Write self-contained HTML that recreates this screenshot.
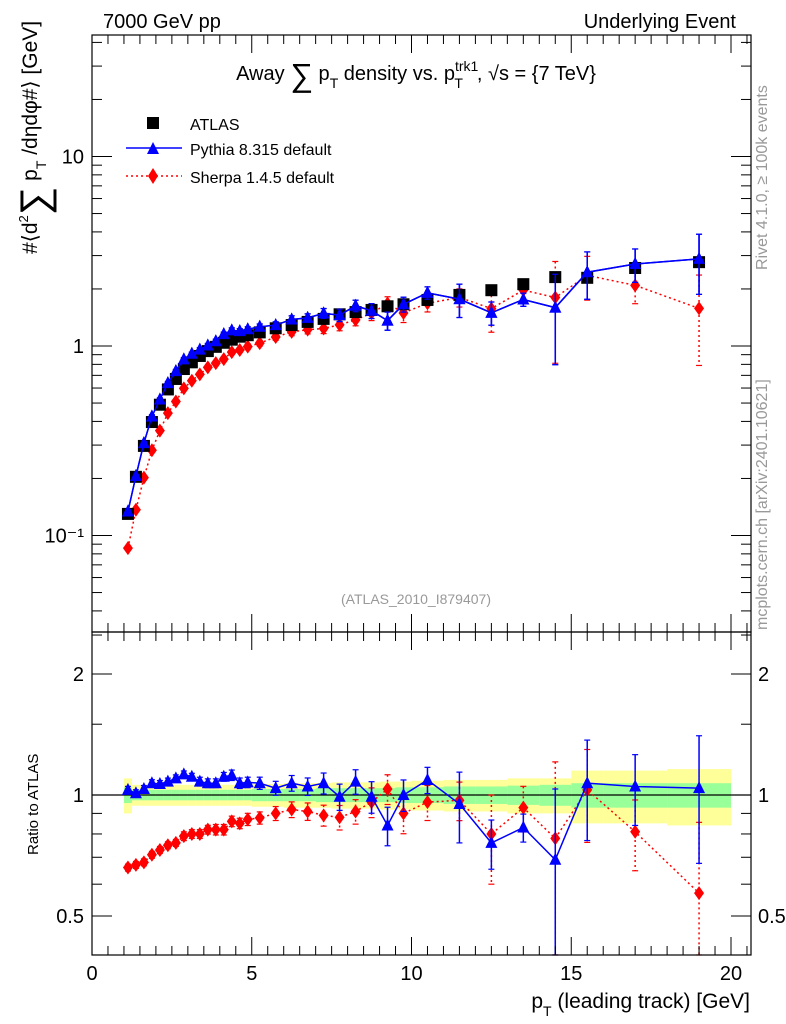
<!DOCTYPE html>
<html><head><meta charset="utf-8"><style>
body{margin:0;background:#fff}
svg{display:block;font-family:"Liberation Sans","DejaVu Sans",sans-serif}
</style></head><body>
<svg id="chart" width="786" height="1024" viewBox="0 0 786 1024" xmlns="http://www.w3.org/2000/svg">
<rect x="0" y="0" width="786" height="1024" fill="#fff"/>
<g id="bands"></g>
<g id="marks"></g>
<rect x="92" y="35" width="659" height="597" fill="none" stroke="#000" stroke-width="1.2"/>
<rect x="92" y="632" width="659" height="323" fill="none" stroke="#000" stroke-width="1.2"/>
<g id="axes"></g>
<text x="103" y="28" font-size="20">7000 GeV pp</text>
<text x="736" y="28" font-size="20" text-anchor="end">Underlying Event</text>
<text x="416" y="80" font-size="20" text-anchor="middle">Away <tspan font-size="32" dy="6">∑</tspan><tspan dy="-6"> p</tspan><tspan font-size="14" dy="8">T</tspan><tspan dy="-8"> density vs. p</tspan><tspan font-size="14" dy="-9">trk1</tspan><tspan font-size="14" dx="-24" dy="17">T</tspan><tspan dx="14" dy="-8">, √s = {7 TeV}</tspan></text>
<text x="416" y="604" font-size="14" fill="#999" text-anchor="middle">(ATLAS_2010_I879407)</text>
<text transform="translate(37,254) rotate(-90)" font-size="21">#⟨d<tspan font-size="13" dy="-9">2</tspan><tspan font-size="40" dy="20">∑</tspan><tspan dy="-11"> p</tspan><tspan font-size="14" dy="9">T</tspan><tspan dy="-9"> /dηdφ#⟩ [GeV]</tspan></text>
<text transform="translate(38,855) rotate(-90)" font-size="15">Ratio to ATLAS</text>
<text x="750" y="1008" font-size="21" text-anchor="end">p<tspan font-size="14" dy="8">T</tspan><tspan dy="-8"> (leading track) [GeV]</tspan></text>
<text transform="translate(767,270) rotate(-90)" font-size="16" fill="#999">Rivet 4.1.0, ≥ 100k events</text>
<text transform="translate(767,630) rotate(-90)" font-size="16" fill="#999">mcplots.cern.ch [arXiv:2401.10621]</text>
<g>
<rect x="147" y="117" width="12" height="12" fill="#000"/>
<text x="190" y="130" font-size="16">ATLAS</text>
<line x1="126" y1="148" x2="182" y2="148" stroke="#00f" stroke-width="1.5"/>
<polygon points="147,154 159,154 153,142" fill="#00f"/>
<text x="190" y="155" font-size="16">Pythia 8.315 default</text>
<line x1="126" y1="176" x2="182" y2="176" stroke="#f00" stroke-width="1.5" stroke-dasharray="2,3"/>
<polygon points="153,168 158,176 153,184 148,176" fill="#f00"/>
<text x="190" y="183" font-size="16">Sherpa 1.4.5 default</text>
</g>
</svg>
<script>
const xCenters=[1.125,1.375,1.625,1.875,2.125,2.375,2.625,2.875,3.125,3.375,3.625,3.875,4.125,4.375,4.625,4.875,5.25,5.75,6.25,6.75,7.25,7.75,8.25,8.75,9.25,9.75,10.5,11.5,12.5,13.5,14.5,15.5,17,19];
const binLo=[1,1.25,1.5,1.75,2,2.25,2.5,2.75,3,3.25,3.5,3.75,4,4.25,4.5,4.75,5,5.5,6,6.5,7,7.5,8,8.5,9,9.5,10,11,12,13,14,15,16,18];
const binHi=[1.25,1.5,1.75,2,2.25,2.5,2.75,3,3.25,3.5,3.75,4,4.25,4.5,4.75,5,5.5,6,6.5,7,7.5,8,8.5,9,9.5,10,11,12,13,14,15,16,18,20];
const atlasVals=[0.13,0.204,0.297,0.397,0.49,0.59,0.67,0.756,0.82,0.886,0.94,0.99,1.04,1.08,1.12,1.14,1.18,1.24,1.29,1.34,1.39,1.47,1.51,1.55,1.62,1.66,1.75,1.86,1.97,2.12,2.31,2.29,2.58,2.77];
const atlasStat=[0.045,0.03,0.03,0.03,0.03,0.03,0.03,0.03,0.03,0.03,0.03,0.03,0.03,0.03,0.03,0.03,0.035,0.035,0.035,0.035,0.04,0.04,0.04,0.04,0.04,0.045,0.045,0.05,0.05,0.055,0.06,0.07,0.07,0.07];
const atlasTot=[0.1,0.06,0.06,0.06,0.06,0.06,0.06,0.06,0.06,0.06,0.06,0.06,0.06,0.06,0.06,0.06,0.065,0.065,0.07,0.07,0.07,0.075,0.075,0.075,0.08,0.08,0.085,0.09,0.09,0.1,0.1,0.15,0.15,0.16];
const pythiaRatio=[1.03,1.01,1.035,1.07,1.065,1.08,1.10,1.125,1.11,1.08,1.07,1.07,1.11,1.12,1.07,1.075,1.07,1.04,1.07,1.05,1.07,0.99,1.08,0.99,0.84,1.0,1.09,0.95,0.76,0.83,0.69,1.07,1.05,1.04];
const pythiaErr=[0.02,0.02,0.02,0.02,0.02,0.02,0.02,0.02,0.02,0.025,0.025,0.025,0.025,0.03,0.03,0.03,0.035,0.04,0.045,0.05,0.06,0.075,0.07,0.09,0.11,0.09,0.075,0.2,0.14,0.08,0.5,0.28,0.2,0.35];
const sherpaRatio=[0.66,0.67,0.68,0.71,0.73,0.75,0.76,0.79,0.80,0.80,0.82,0.82,0.82,0.86,0.85,0.87,0.877,0.90,0.92,0.91,0.89,0.88,0.91,0.96,1.035,0.90,0.96,0.97,0.80,0.93,0.78,1.03,0.81,0.57];
const sherpaErr=[0.02,0.02,0.02,0.02,0.02,0.02,0.02,0.025,0.025,0.025,0.025,0.03,0.03,0.03,0.03,0.035,0.035,0.04,0.045,0.05,0.06,0.07,0.07,0.085,0.085,0.11,0.1,0.11,0.25,0.13,0.55,0.26,0.2,0.5];
const xTicks=[0,5,10,15,20];
const mainTickVals=[0.1,1,10];
const mainTickLabels=["10⁻¹","1","10"];
const ratioTickVals=[0.5,1,2];
const ratioTickLabels=["0.5","1","2"];

const NS="http://www.w3.org/2000/svg";
const X=v=>92+v*31.95;
const Ym=v=>346-189.5*Math.log10(v);
const Yr=r=>795-402*Math.log10(r);
const RMIN=0.4,RMAX=2.53,MMIN=0.031,MMAX=44;
const clampR=r=>Math.max(RMIN,Math.min(RMAX,r));
const clampM=v=>Math.max(MMIN,Math.min(MMAX,v));
function mk(tag,attrs,parent){const e=document.createElementNS(NS,tag);for(const k in attrs)e.setAttribute(k,attrs[k]);parent.appendChild(e);return e;}
const bands=document.getElementById('bands');
const marks=document.getElementById('marks');
const axes=document.getElementById('axes');

for(let i=0;i<xCenters.length;i++){
  const y1=mk('rect',{x:X(binLo[i]),width:X(binHi[i])-X(binLo[i]),y:Yr(1+atlasTot[i]),height:Yr(1-atlasTot[i])-Yr(1+atlasTot[i]),fill:'#ffff99'},bands);
  
  
  const g1=mk('rect',{x:X(binLo[i]),width:X(binHi[i])-X(binLo[i]),y:Yr(1+atlasStat[i]),height:Yr(1-atlasStat[i])-Yr(1+atlasStat[i]),fill:'#99ff99'},bands);
  
  
}
const one=mk('line',{x1:92,x2:751,y1:Yr(1),y2:Yr(1),stroke:'#000','stroke-width':1.2},bands);



function series(vals,errs,color,dash,shape,name,yf,clamp){
  const g=mk('g',{},marks);
  
  
  const pts=xCenters.map((x,i)=>X(x)+','+yf(vals[i]));
  const pl=mk('polyline',{points:pts.join(' '),fill:'none',stroke:color,'stroke-width':1.5},g);
  if(dash)pl.setAttribute('stroke-dasharray',dash);
  for(let i=0;i<xCenters.length;i++){
    const cx=X(xCenters[i]),cy=yf(vals[i]);
    if(errs){
      const hi=yf(clamp(vals[i]*(1+errs[i]))),lo=yf(clamp(vals[i]*(1-errs[i])));
      const l=mk('line',{x1:cx,x2:cx,y1:hi,y2:lo,stroke:color,'stroke-width':1.5},g);
      if(dash)l.setAttribute('stroke-dasharray',dash);
      
      
      mk('line',{x1:cx-3,x2:cx+3,y1:hi,y2:hi,stroke:color,'stroke-width':1.2},g);
      mk('line',{x1:cx-3,x2:cx+3,y1:lo,y2:lo,stroke:color,'stroke-width':1.2},g);
    }
    let m;
    if(shape==='sq')m=mk('rect',{x:cx-6,y:cy-6,width:12,height:12,fill:color},g);
    else if(shape==='tri')m=mk('polygon',{points:`${cx-6},${cy+5} ${cx+6},${cy+5} ${cx},${cy-7}`,fill:color},g);
    else m=mk('polygon',{points:`${cx},${cy-7} ${cx+5},${cy} ${cx},${cy+7} ${cx-5},${cy}`,fill:color},g);
    
    
  }
}
const pythiaVals=pythiaRatio.map((r,i)=>r*atlasVals[i]);
const sherpaVals=sherpaRatio.map((r,i)=>r*atlasVals[i]);
series(sherpaVals,sherpaErr,'#f00','2,3','dia','sherpa-main',Ym,clampM);
series(pythiaVals,pythiaErr,'#00f',null,'tri','pythia-main',Ym,clampM);
(function(){const g=mk('g',{},marks);


for(let i=0;i<xCenters.length;i++){const r=mk('rect',{x:X(xCenters[i])-6,y:Ym(atlasVals[i])-6,width:12,height:12,fill:'#000'},g);

}})();
series(pythiaVals,pythiaErr,'#00f',null,'tri','pythia-main-top',Ym,clampM);
series(sherpaRatio,sherpaErr,'#f00','2,3','dia','sherpa-ratio',Yr,clampR);
series(pythiaRatio,pythiaErr,'#00f',null,'tri','pythia-ratio',Yr,clampR);

function tick(x1,y1,x2,y2){mk('line',{x1,y1,x2,y2,stroke:'#000','stroke-width':1},axes);}
for(let v=0;v<=20.5;v+=0.5){
  const x=X(v);const major=Math.abs(v%5)<1e-6;const len=major?18:9;
  tick(x,632,x,632-len);tick(x,35,x,35+len);tick(x,955,x,955-len);tick(x,632,x,632+len);
}
xTicks.forEach(v=>{const t=mk('text',{x:X(v),y:980,'font-size':20,'text-anchor':'middle'},axes);t.textContent=v;

});
for(let d=-2;d<=1;d++){for(let k=1;k<=9;k++){const v=k*Math.pow(10,d);if(v<MMIN||v>MMAX)continue;const y=Ym(v);const len=k===1?20:10;
tick(92,y,92+len,y);tick(751,y,751-len,y);}}
mainTickVals.forEach((v,i)=>{const t=mk('text',{x:84,y:Ym(v)+7,'font-size':20,'text-anchor':'end'},axes);t.textContent=mainTickLabels[i];

});
[0.4,0.5,0.6,0.7,0.8,0.9,1,1.5,2,2.5].forEach(v=>{const y=Yr(v);const major=(v===0.5||v===1||v===2);const len=major?20:10;
tick(92,y,92+len,y);tick(751,y,751-len,y);});
ratioTickVals.forEach((v,i)=>{const t=mk('text',{x:84,y:Yr(v)+7,'font-size':20,'text-anchor':'end'},axes);t.textContent=ratioTickLabels[i];


const t2=mk('text',{x:758,y:Yr(v)+7,'font-size':20,'text-anchor':'start'},axes);t2.textContent=ratioTickLabels[i];

});
</script>
</body></html>
